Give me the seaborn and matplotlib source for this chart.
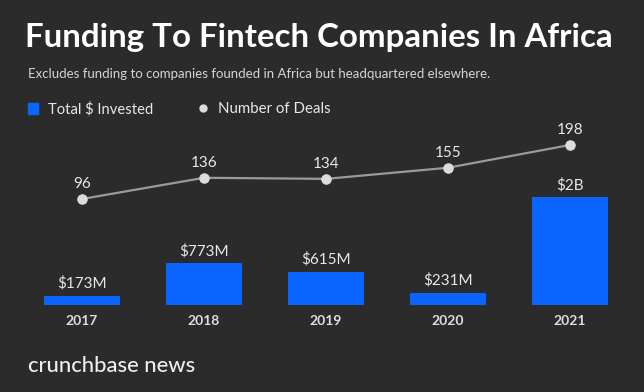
import matplotlib
matplotlib.use("Agg")
import matplotlib.pyplot as plt
import seaborn as sns
import numpy as np
import pandas as pd

years = ["2017", "2018", "2019", "2020", "2021"]
invested_m = [173, 773, 615, 231, 2000]
invested_labels = ["$173M", "$773M", "$615M", "$231M", "$2B"]
deals = [96, 136, 134, 155, 198]

BG = "#2b2b2b"
BLUE = "#0a66ff"
LINE = "#9a9a9a"
DOT = "#dcdcdc"
TXT = "#e8e8e8"

sns.set_theme(style="dark")
FONT = ["Lato", "DejaVu Sans"]
plt.rcParams["font.family"] = FONT

W, H = 644, 392
fig = plt.figure(figsize=(W / 100, H / 100), dpi=100, facecolor=BG)

def px(x0, y0, w, h):
    return [x0 / W, 1 - (y0 + h) / H, w / W, h / H]

# main axes: categories spaced 122 px, first center at 82 px; bottom at 305 px, top at 120 px
ax = fig.add_axes(px(21, 120, 610, 185))
ax.set_facecolor(BG)
df = pd.DataFrame({"year": years, "invested": invested_m, "deals": deals})
sns.barplot(data=df, x="year", y="invested", color=BLUE, saturation=1, width=0.615,
            linewidth=0, edgecolor=BLUE, ax=ax)
ax.set_xlim(-0.5, 4.5)
ax.set_ylim(0, 185 / 0.054)
ax.set_xlabel("")
ax.set_ylabel("")
ax.set_yticks([])
ax.tick_params(axis="x", length=0, pad=7, labelsize=10, labelcolor="#dedede")
for lab in ax.get_xticklabels():
    lab.set_fontweight("bold")
for s in ax.spines.values():
    s.set_visible(False)
ax.grid(False)
for i, (v, l) in enumerate(zip(invested_m, invested_labels)):
    ax.annotate(l, (i, v), xytext=(0, 3.5), textcoords="offset points",
                ha="center", va="bottom", color=TXT, fontsize=11)

ax2 = ax.twinx()
ax2.set_facecolor("none")
k = 54 / 102.0
ax2.set_ylim(-55.2 / k, 129.8 / k)
sns.lineplot(x=np.arange(len(years)), y=deals, ax=ax2, color=LINE, linewidth=1.6,
             marker="o", markersize=6.8, markerfacecolor=DOT, markeredgecolor=DOT)
ax2.set_yticks([])
ax2.set_ylabel("")
for s in ax2.spines.values():
    s.set_visible(False)
ax2.grid(False)
for i, d in enumerate(deals):
    ax2.annotate(str(d), (i, d), xytext=(0, 5.5), textcoords="offset points",
                 ha="center", va="bottom", color=TXT, fontsize=11)

# title, subtitle, legend, logo
fig.text(25 / W, 1 - 38 / H, "Funding To Fintech Companies In Africa", color="white",
         fontsize=23.8, fontweight="bold", ha="left", va="center")
fig.text(28 / W, 1 - 74 / H, "Excludes funding to companies founded in Africa but headquartered elsewhere.",
         color="#d4d4d4", fontsize=9.5, ha="left", va="center")
fig.patches.append(plt.Rectangle((28 / W, 1 - 114 / H), 10 / W, 11 / H, color=BLUE,
                                 transform=fig.transFigure, figure=fig))
fig.text(48 / W, 1 - 109 / H, "Total $ Invested", color=TXT, fontsize=10.6, ha="left", va="center")
fig.add_artist(plt.Line2D([203 / W], [1 - 108 / H], marker="o", markersize=5,
                          color=DOT, transform=fig.transFigure))
fig.text(218 / W, 1 - 109 / H, "Number of Deals", color=TXT, fontsize=10.8, ha="left", va="center")
fig.text(28 / W, 1 - 366 / H, "crunchbase news", color="#eeeeee", fontsize=15.8,
         ha="left", va="center", fontweight="medium")

fig.savefig("out.png", dpi=100, facecolor=BG)
